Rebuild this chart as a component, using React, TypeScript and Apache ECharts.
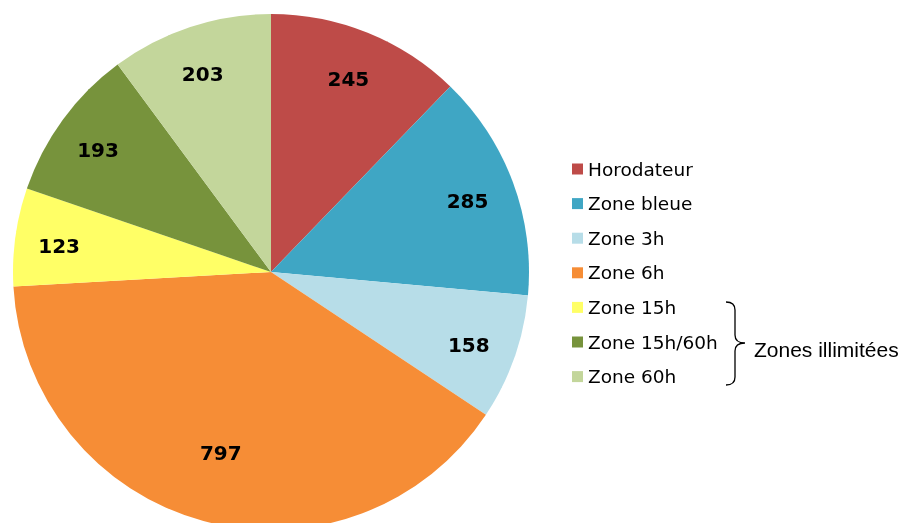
import React, { useEffect, useRef } from "react";
import * as echarts from "echarts";

const categories = ["Horodateur", "Zone bleue", "Zone 3h", "Zone 6h", "Zone 15h", "Zone 15h/60h", "Zone 60h"];
const values = [245, 285, 158, 797, 123, 193, 203];
const colors = ["#BE4B48", "#3FA6C4", "#B7DDE8", "#F68D36", "#FFFF66", "#77933C", "#C3D69B"];
const groupLabel = "Zones illimitées";

const CX = 271;
const CY = 272;
const R = 258;

echarts.graphic.registerShape(
  "brace",
  echarts.graphic.extendPath(
    "M726,302 Q735,302 735,310 L735,335 Q735,343 745,343 Q735,343 735,351 L735,377 Q735,385 726,385",
    {}
  )
);

export default function App() {
  const ref = useRef<HTMLDivElement>(null);
  useEffect(() => {
    if (!ref.current) return;
    const chart = echarts.init(ref.current, undefined, { renderer: "svg" });
    chart.setOption({
      animation: false,
      color: colors,
      legend: {
        orient: "vertical",
        left: 567,
        top: 154,
        icon: "rect",
        itemWidth: 11,
        itemHeight: 11,
        itemGap: 14.6,
        data: categories,
        selectedMode: false,
        textStyle: { fontFamily: "DejaVu Sans", fontSize: 18.5, lineHeight: 20, color: "#000" },
      },
      graphic: [
        {
          type: "brace",
          x: 0,
          y: 0,
          style: { fill: "none", stroke: "#000", lineWidth: 1.3 },
        },
        {
          type: "text",
          x: 754,
          y: 349,
          style: {
            text: groupLabel,
            fontFamily: "Liberation Sans",
            fontSize: 21,
            fill: "#000",
            verticalAlign: "middle",
          },
        },
      ],
      series: [
        {
          type: "pie",
          center: [CX, CY],
          radius: [0, R],
          startAngle: 90,
          clockwise: true,
          silent: true,
          itemStyle: { borderWidth: 0 },
          emphasis: { disabled: true },
          label: {
            show: true,
            position: "inside",
            formatter: "{c}",
            fontFamily: "DejaVu Sans",
            fontWeight: "bold",
            fontSize: 20,
            color: "#000",
          },
          labelLayout: (p: any) => {
            const r = p.labelRect;
            const lx = r.x + r.width / 2;
            const ly = r.y + r.height / 2;
            const f = (p.dataIndex === 3 ? 180 : 207) / (R / 2);
            return {
              x: CX + (lx - CX) * f - 2,
              y: CY + (ly - CY) * f + 3,
              align: "center",
              verticalAlign: "middle",
            };
          },
          data: categories.map((name, i) => ({ name, value: values[i] })),
        },
      ],
    });
    return () => chart.dispose();
  }, []);
  return <div ref={ref} style={{ position: "fixed", left: 0, top: 0, width: 902, height: 523 }} />;
}
